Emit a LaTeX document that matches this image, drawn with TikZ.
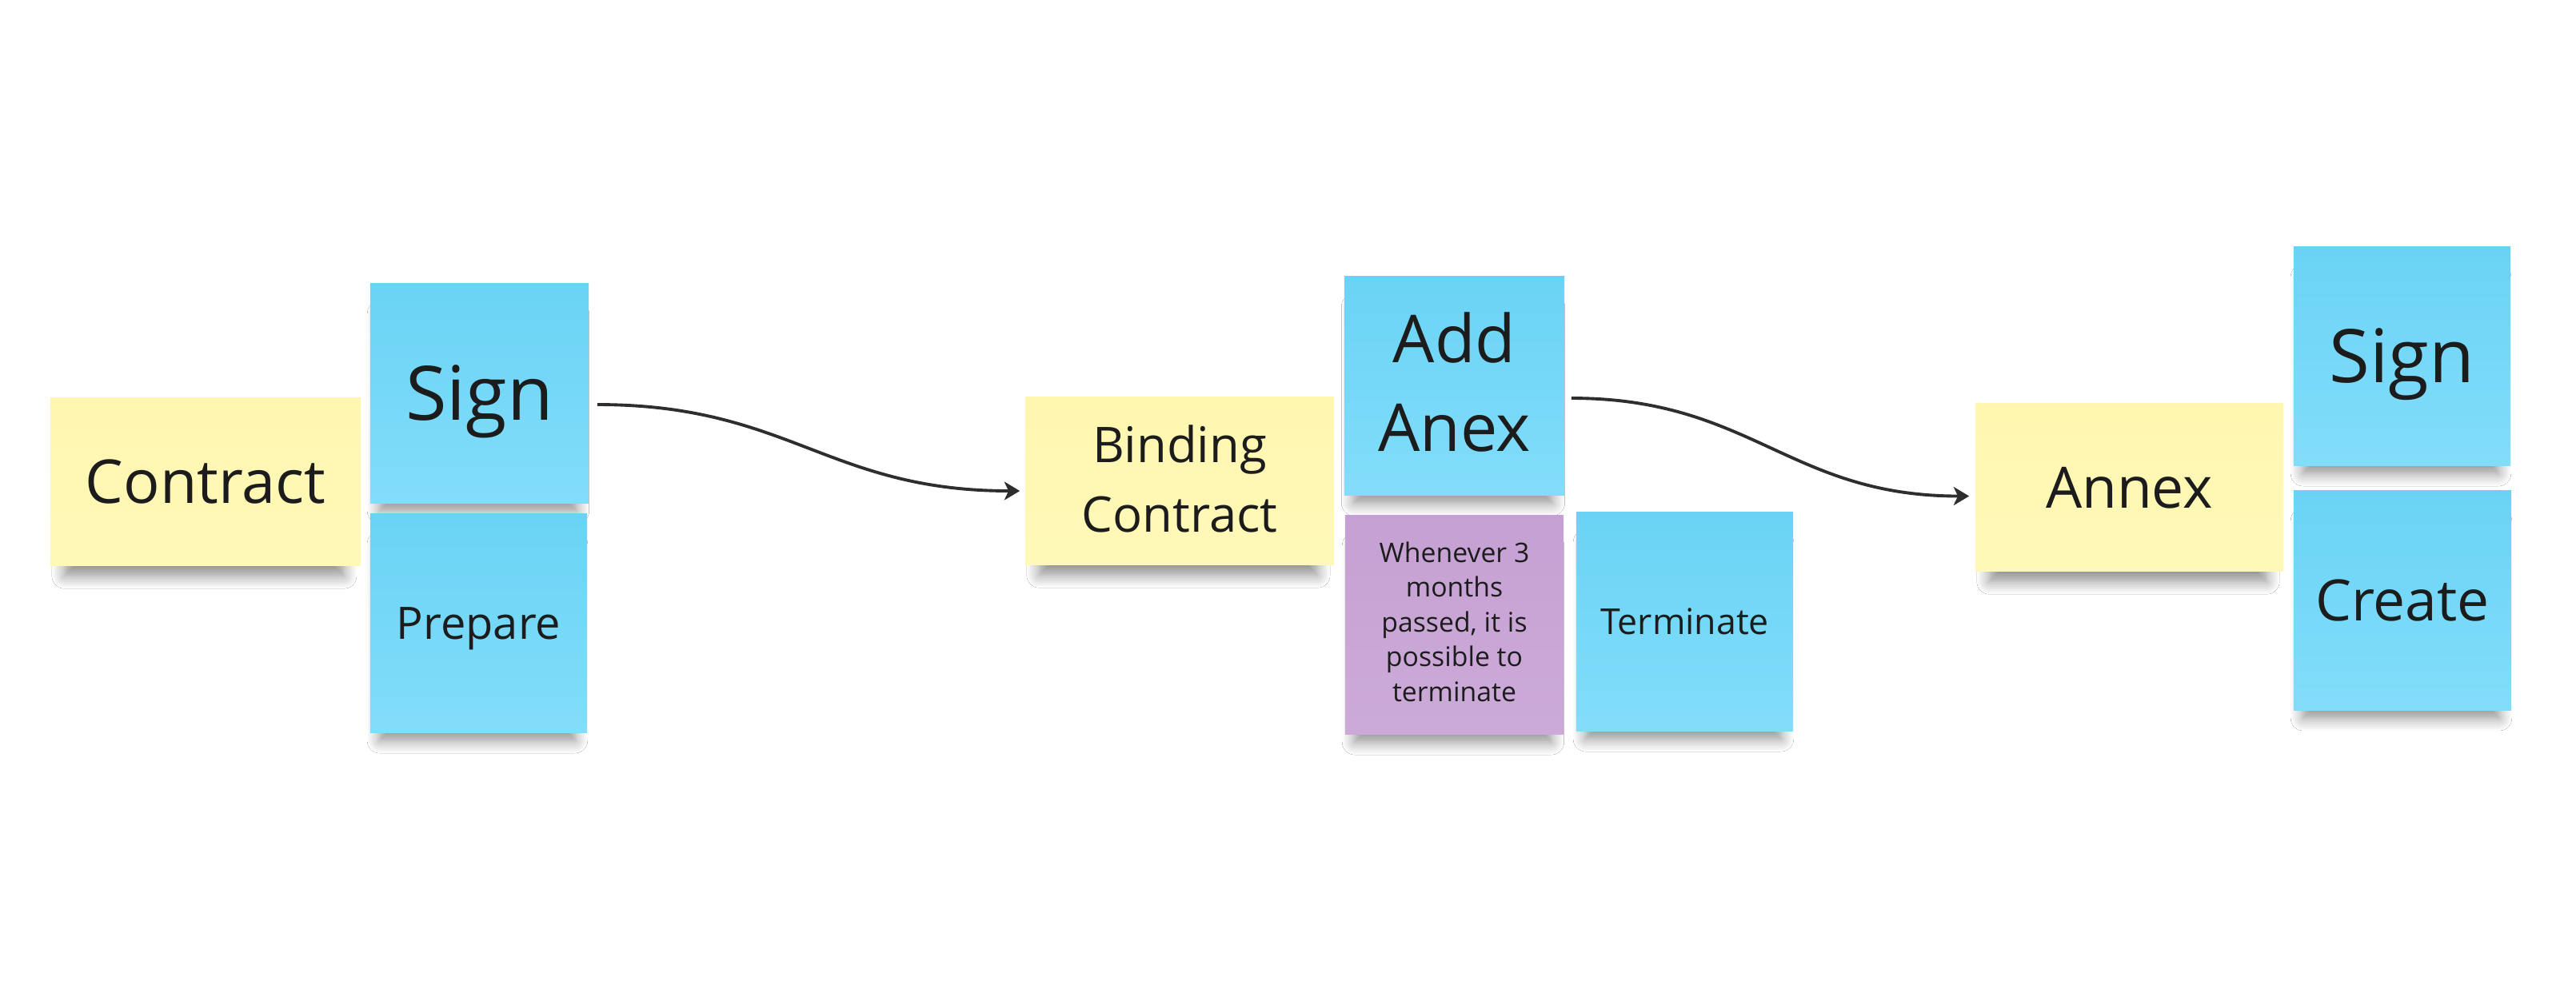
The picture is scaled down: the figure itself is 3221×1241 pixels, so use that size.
\documentclass[tikz,border=0pt]{standalone}
\usepackage{fontspec}
\setmainfont{Open Sans}
\usetikzlibrary{arrows.meta,shadows.blur}
\definecolor{stkYt}{HTML}{FFF6B0}
\definecolor{stkYb}{HTML}{FFF9B8}
\definecolor{stkBt}{HTML}{6AD3F5}
\definecolor{stkBb}{HTML}{82DDFA}
\definecolor{stkPt}{HTML}{C5A1D3}
\definecolor{stkPb}{HTML}{CCAAD8}
\definecolor{ink}{HTML}{1C1C1C}
\definecolor{arrowc}{HTML}{2E2E2E}
\begin{document}
\begin{tikzpicture}[x=0.01cm,y=-0.01cm,
  sticky/.style={rectangle, inner sep=0pt, align=center, text=ink, text depth=0pt,
    blur shadow={shadow xshift=-0.5pt, shadow yshift=-7.5pt, shadow scale=0.9, shadow blur radius=5pt, shadow blur steps=8, shadow opacity=45}},
  yel/.style={sticky, top color=stkYt, bottom color=stkYb},
  blu/.style={sticky, top color=stkBt, bottom color=stkBb},
  pur/.style={sticky, top color=stkPt, bottom color=stkPb},
  conn/.style={draw=arrowc, line width=1.1pt, -{Stealth[length=5.5pt,width=6.5pt,inset=1.5pt]}}
]
\useasboundingbox[fill=white] (0,0) rectangle (3221,1241);

% group 1
\node[yel, minimum width=3.88cm, minimum height=2.09cm, text height=15.4pt,
  font=\fontsize{21.5pt}{28pt}\selectfont] (contract) at (257,602.5) {Contract};
\node[blu, minimum width=2.73cm, minimum height=2.74cm, text height=19.1pt,
  font=\fontsize{26.7pt}{34pt}\selectfont] (sign1) at (599.5,492) {Sign};
\node[blu, minimum width=2.71cm, minimum height=2.73cm, text height=11.4pt,
  font=\fontsize{15.9pt}{20pt}\selectfont] (prepare) at (598.5,779.5) {Prepare};

% group 2
\node[yel, minimum width=3.86cm, minimum height=2.09cm, text depth=1.5pt,
  font=\fontsize{17.5pt}{24.8pt}\selectfont] (binding) at (1475,601.5) {Binding\\Contract};
\node[blu, minimum width=2.75cm, minimum height=2.73cm, text depth=2.8pt,
  font=\fontsize{23.5pt}{31.6pt}\selectfont] (addanex) at (1818.5,482.5) {Add\\Anex};
\node[pur, minimum width=2.73cm, minimum height=2.73cm, text depth=2.3pt,
  font=\fontsize{9.6pt}{12.4pt}\selectfont] (note) at (1818.5,781.5) {Whenever 3\\months\\passed, it is\\possible to\\terminate};
\node[blu, minimum width=2.71cm, minimum height=2.73cm, text height=9.1pt,
  font=\fontsize{12.7pt}{16pt}\selectfont] (terminate) at (2106.5,777.5) {Terminate};

% group 3
\node[yel, minimum width=3.85cm, minimum height=2.09cm, text height=14.5pt,
  font=\fontsize{20.3pt}{26pt}\selectfont] (annex) at (2662.5,609.5) {Annex};
\node[blu, minimum width=2.71cm, minimum height=2.73cm, text height=18.8pt,
  font=\fontsize{26.3pt}{34pt}\selectfont] (sign2) at (3003.5,445.5) {Sign};
\node[blu, minimum width=2.72cm, minimum height=2.74cm, text height=14.5pt,
  font=\fontsize{20.3pt}{26pt}\selectfont] (create) at (3004,751) {Create};

% connectors
\draw[conn] ([shift={(10,14)}]sign1.east) .. controls +(240,0) and +(-240,0) .. ([shift={(-6,12.5)}]binding.west);
\draw[conn] ([shift={(8,15.5)}]addanex.east) .. controls +(225,0) and +(-225,0) .. ([shift={(-7,11)}]annex.west);
\end{tikzpicture}
\end{document}
